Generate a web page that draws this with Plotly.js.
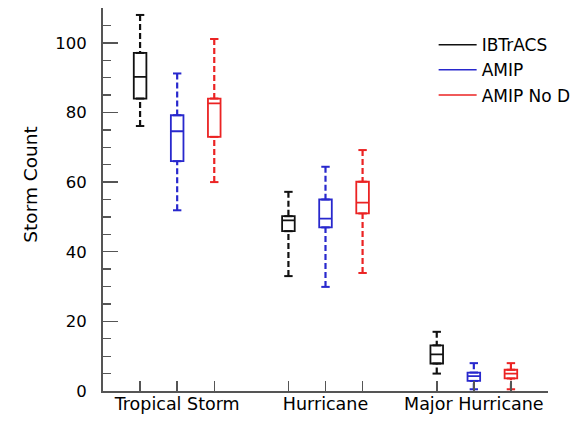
<!DOCTYPE html>
<html><head><meta charset="utf-8">
<script src="https://cdn.plot.ly/plotly-3.0.1.min.js"></script>
<style>html,body{margin:0;padding:0;background:#fff}#chart{width:588px;height:421px}</style>
</head><body><div id="chart"></div>
<script>
// ---- data ----
const categories = ['Tropical Storm', 'Hurricane', 'Major Hurricane'];
const seriesNames = ['IBTrACS', 'AMIP', 'AMIP No D'];

const ibtracsMin    = [76.1, 33.0, 5.0];
const ibtracsQ1     = [84.0, 45.9, 7.9];
const ibtracsMedian = [90.2, 49.0, 10.5];
const ibtracsQ3     = [97.1, 50.2, 13.1];
const ibtracsMax    = [108.0, 57.2, 17.0];

const amipMin    = [51.9, 29.9, 0.5];
const amipQ1     = [66.0, 47.0, 2.9];
const amipMedian = [74.6, 49.5, 4.3];
const amipQ3     = [79.2, 55.0, 5.3];
const amipMax    = [91.2, 64.4, 8.0];

const amipNoDMin    = [60.0, 33.9, 0.5];
const amipNoDQ1     = [73.0, 51.0, 3.6];
const amipNoDMedian = [82.6, 54.1, 5.0];
const amipNoDQ3     = [84.0, 60.1, 6.1];
const amipNoDMax    = [101.1, 69.2, 8.0];

const yTickVals = [0, 20, 40, 60, 80, 100];

// ---- styling / layout helpers ----
const colors = ['#111111', 'rgb(40,40,205)', 'rgb(235,35,35)'];
const axisColor = '#555555';
const stats = [
  [ibtracsMin, ibtracsQ1, ibtracsMedian, ibtracsQ3, ibtracsMax],
  [amipMin, amipQ1, amipMedian, amipQ3, amipMax],
  [amipNoDMin, amipNoDQ1, amipNoDMedian, amipNoDQ3, amipNoDMax]
];
const groupCenter = i => 2 + 4 * i;
const offsets = [-1, 0, 1];

const traces = [];
stats.forEach((s, k) => {
  const [mn, q1, med, q3, mx] = s;
  const xs = categories.map((c, i) => groupCenter(i) + offsets[k]);
  traces.push({
    type: 'box', name: seriesNames[k], showlegend: false,
    x: xs, q1: q1, median: med, q3: q3, lowerfence: q1, upperfence: q3,
    width: 0.34, whiskerwidth: 0, boxpoints: false,
    fillcolor: 'rgba(0,0,0,0)', line: {color: colors[k], width: 1.8},
    hoverinfo: 'skip'
  });
  const wx = [], wy = [];
  xs.forEach((x, i) => {
    wx.push(x, x, null, x, x, null);
    wy.push(mx[i], q3[i], null, mn[i], q1[i], null);
  });
  traces.push({
    type: 'scatter', mode: 'lines+markers', showlegend: false,
    x: wx, y: wy, line: {color: colors[k], width: 2.2, dash: '6px,3px'},
    marker: {symbol: 'line-ew-open', size: 6, line: {color: colors[k], width: 2}},
    hoverinfo: 'skip'
  });
});
seriesNames.forEach((n, k) => {
  traces.push({
    type: 'scatter', mode: 'lines', name: n, x: [null], y: [null],
    line: {color: colors[k], width: 1.5}
  });
});

const allPos = [];
categories.forEach((c, i) => offsets.forEach(o => allPos.push(groupCenter(i) + o)));
const xTickVals = [0].concat(allPos, [12]);
const xTickText = xTickVals.map(v => {
  const idx = categories.findIndex((c, i) => groupCenter(i) === v);
  return idx >= 0 ? categories[idx] : '';
});

const layout = {
  width: 588, height: 421,
  margin: {l: 103, r: 40, t: 8, b: 30},
  paper_bgcolor: '#fff', plot_bgcolor: '#fff',
  font: {family: 'DejaVu Sans, sans-serif', color: '#000', size: 16},
  showlegend: true,
  legend: {
    x: 0.743, y: 0.95, xanchor: 'left', yanchor: 'top',
    bgcolor: 'rgba(0,0,0,0)', font: {size: 17}, itemwidth: 38, tracegroupgap: 0
  },
  xaxis: {
    range: [0, 12], showgrid: false, zeroline: false,
    showline: true, linecolor: axisColor, linewidth: 2,
    ticks: 'inside', ticklen: 10, tickwidth: 1.5, tickcolor: axisColor,
    tickmode: 'array', tickvals: xTickVals, ticktext: xTickText,
    tickfont: {size: 17.5}, ticklabelstandoff: -4, automargin: false
  },
  yaxis: {
    range: [0, 110], showgrid: false, zeroline: false,
    showline: true, linecolor: axisColor, linewidth: 2,
    ticks: 'inside', ticklen: 15, tickwidth: 1.5, tickcolor: axisColor,
    tickmode: 'array', tickvals: yTickVals,
    tickfont: {size: 16.5}, ticklabelstandoff: 11, automargin: false,
    minor: {dtick: 5, tick0: 0, ticks: 'inside', ticklen: 8, tickwidth: 1.3, tickcolor: axisColor, showgrid: false}
  },
  annotations: [{
    text: 'Storm Count', textangle: -90, showarrow: false,
    xref: 'paper', yref: 'y', x: -0.163, y: 59.4, xanchor: 'center', yanchor: 'middle',
    font: {size: 18.5, color: '#000'}
  }]
};

Plotly.newPlot('chart', traces, layout, {displayModeBar: false, staticPlot: true});
</script>
</body></html>
